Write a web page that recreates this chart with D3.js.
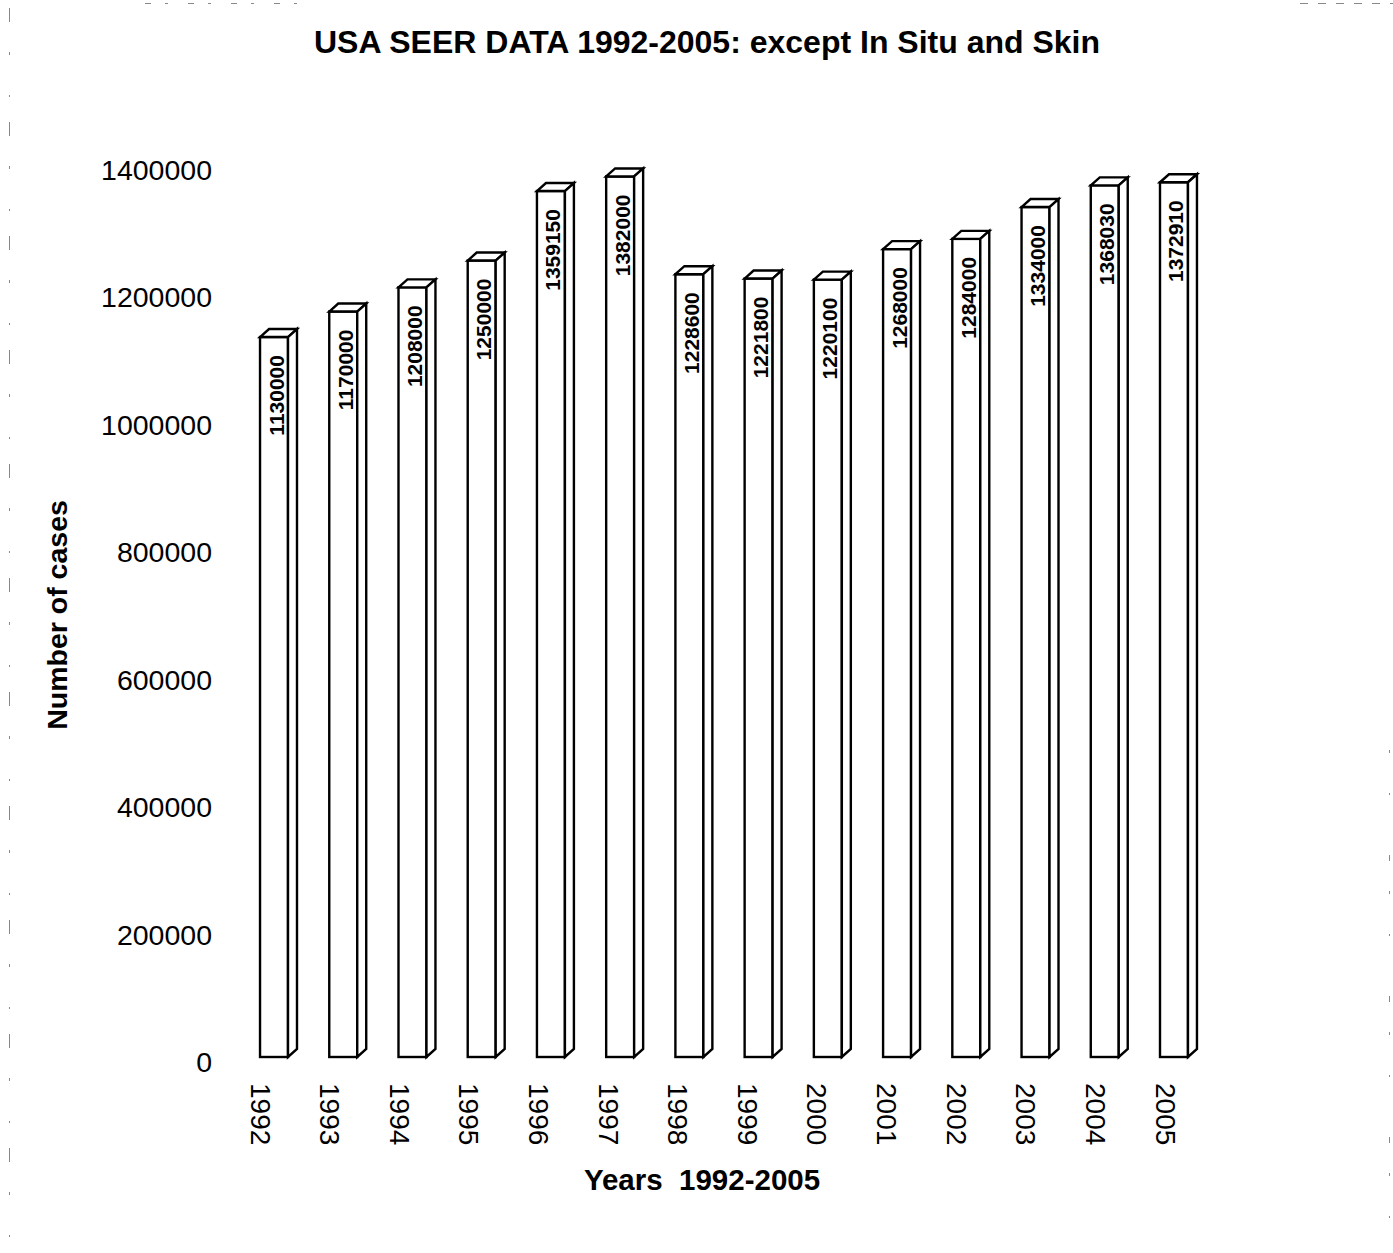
<!DOCTYPE html>
<html>
<head>
<meta charset="utf-8">
<script src="https://cdn.jsdelivr.net/npm/d3@7"></script>
<style>
  html, body { margin: 0; padding: 0; background: #fff; }
  svg { display: block; }
  text { font-family: "Liberation Sans", Arial, sans-serif; fill: #000; }
</style>
</head>
<body>
<script>
// Annual case counts (SEER, excluding in situ and skin)
const years = ["1992","1993","1994","1995","1996","1997","1998","1999","2000","2001","2002","2003","2004","2005"];
const cases = [1130000, 1170000, 1208000, 1250000, 1359150, 1382000, 1228600, 1221800, 1220100, 1268000, 1284000, 1334000, 1368030, 1372910];
const yTicks = [0, 200000, 400000, 600000, 800000, 1000000, 1200000, 1400000];

const W = 1393, H = 1253;
const depthX = 9, depthY = 8;   // 3D extrusion of each column

const svg = d3.select("body").append("svg")
  .attr("width", W).attr("height", H);

const x = d3.scaleBand().domain(years)
  .range([239.4, 1208.6]).paddingInner(0.596).paddingOuter(0.298);
const xLabel = d3.scalePoint().domain(years).range([260, 1165]);
const y = d3.scaleLinear().domain([0, 1400000]).range([1057, 165]);

const data = years.map((yr, i) => ({ year: yr, value: cases[i] }));

// faint page-edge rules
const edge = svg.append("g").attr("stroke", "#888").attr("stroke-width", 1).attr("fill", "none");
edge.append("line").attr("x1", 9.5).attr("x2", 9.5).attr("y1", 8).attr("y2", H)
  .attr("stroke-dasharray", "14,30,3,40,2,25");
edge.append("line").attr("x1", 1389.5).attr("x2", 1389.5).attr("y1", 750).attr("y2", H)
  .attr("stroke-dasharray", "3,40,2,60,6,30");
edge.append("line").attr("x1", 145).attr("x2", 310).attr("y1", 3.5).attr("y2", 3.5)
  .attr("stroke-dasharray", "6,14,3,20");
edge.append("line").attr("x1", 1300).attr("x2", 1393).attr("y1", 3.5).attr("y2", 3.5)
  .attr("stroke-dasharray", "8,10");

// title
svg.append("text")
  .attr("x", 707).attr("y", 53)
  .attr("text-anchor", "middle")
  .attr("font-size", 32).attr("font-weight", "bold")
  .text("USA SEER DATA 1992-2005: except In Situ and Skin");

// y tick labels
svg.append("g").selectAll("text").data(yTicks).join("text")
  .attr("x", 212)
  .attr("y", d => y(d) + 5)
  .attr("text-anchor", "end")
  .attr("dominant-baseline", "central")
  .attr("font-size", 28.5)
  .text(d => d3.format("d")(d));

// y axis title
svg.append("text")
  .attr("transform", "translate(57,615) rotate(-90)")
  .attr("text-anchor", "middle")
  .attr("dominant-baseline", "central")
  .attr("font-size", 28.5).attr("font-weight", "bold")
  .text("Number of cases");

// columns
const bars = svg.append("g")
  .attr("fill", "#fff").attr("stroke", "#000")
  .attr("stroke-width", 2.4).attr("stroke-linejoin", "miter");

const bar = bars.selectAll("g").data(data).join("g");
bar.append("rect")
  .attr("x", d => x(d.year))
  .attr("y", d => y(d.value))
  .attr("width", x.bandwidth())
  .attr("height", d => y(0) - y(d.value));
bar.append("path")
  .attr("d", d => {
    const l = x(d.year), r = l + x.bandwidth(), t = y(d.value);
    return `M${l},${t}L${l + depthX},${t - depthY}L${r + depthX},${t - depthY}L${r},${t}Z`;
  });
bar.append("path")
  .attr("d", d => {
    const r = x(d.year) + x.bandwidth(), t = y(d.value), b = y(0);
    return `M${r},${t}L${r + depthX},${t - depthY}L${r + depthX},${b - depthY}L${r},${b}Z`;
  });

// value labels inside columns
svg.append("g").selectAll("text").data(data).join("text")
  .attr("transform", d => `translate(${x(d.year) + x.bandwidth() / 2 + 2},${y(d.value) + 18}) rotate(-90)`)
  .attr("text-anchor", "end")
  .attr("dominant-baseline", "central")
  .attr("font-size", 21).attr("font-weight", "bold")
  .text(d => d.value);

// year labels
svg.append("g").selectAll("text").data(years).join("text")
  .attr("transform", d => `translate(${xLabel(d)},1083) rotate(90)`)
  .attr("text-anchor", "start")
  .attr("dominant-baseline", "central")
  .attr("font-size", 28)
  .text(d => d);

// x axis title
svg.append("text")
  .attr("x", 702).attr("y", 1190)
  .attr("text-anchor", "middle")
  .attr("font-size", 29.5).attr("font-weight", "bold")
  .attr("xml:space", "preserve")
  .style("white-space", "pre")
  .text("Years  1992-2005");
</script>
</body>
</html>
